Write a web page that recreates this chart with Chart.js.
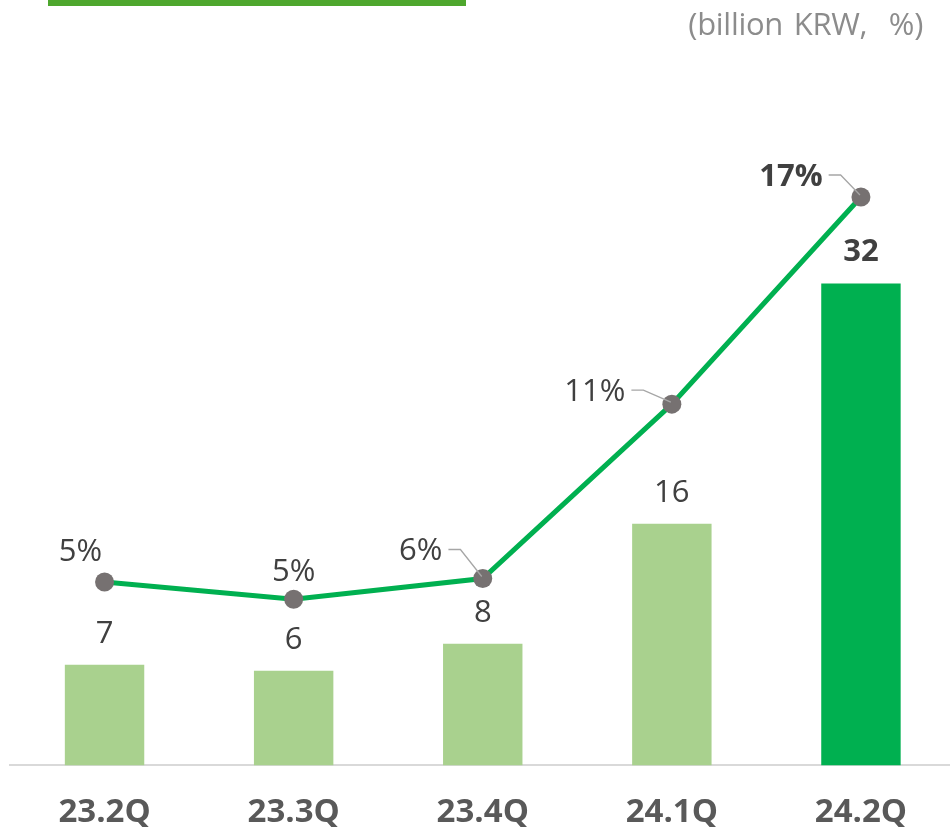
<!DOCTYPE html>
<html>
<head>
<meta charset="utf-8">
<script src="https://cdn.jsdelivr.net/npm/chart.js@4/dist/chart.umd.min.js"></script>
<style>
  html, body { margin: 0; padding: 0; background: #fff; overflow: hidden; width: 950px; height: 832px; }
  #chart { position: absolute; left: 0; top: 0; }
  #topbar { position: absolute; left: 48px; top: 0px; width: 418px; height: 6px; background: #4ea72e; }
  #unit { position: absolute; right: 27px; top: 2px; font-family: "Open Sans", "Noto Sans", sans-serif; font-size: 31px; color: #8c8c8c; letter-spacing: -0.3px; word-spacing: 3px; }
</style>
</head>
<body>
<canvas id="chart" width="965" height="860"></canvas>
<div id="topbar"></div>
<div id="unit">(billion KRW,&nbsp;&nbsp;%)</div>
<script>
// data
const quarters = ['23.2Q', '23.3Q', '23.4Q', '24.1Q', '24.2Q'];
const profit = [6.7, 6.3, 8.1, 16.1, 32.1];          // billion KRW
const margin = [5.45, 4.95, 5.55, 10.6, 16.6];       // %
const profitLabels = ['7', '6', '8', '16', '32'];
const marginLabels = ['5%', '5%', '6%', '11%', '17%'];

const barColors = ['#a9d18e', '#a9d18e', '#a9d18e', '#a9d18e', '#00b050'];
const boldIdx = 4;
// label placement relative to the point: [dx, dy, leader line?]
const marginLabelPos = [[-24, -30, false], [0, -27, false], [-62, -27, true], [-77, -12, true], [-70, -20, true]];

const labelPlugin = {
  id: 'labels',
  afterDatasetsDraw(chart) {
    const ctx = chart.ctx;
    const bars = chart.getDatasetMeta(0).data;
    const pts = chart.getDatasetMeta(1).data;
    ctx.save();
    ctx.fillStyle = '#404040';
    ctx.textAlign = 'center';
    ctx.textBaseline = 'middle';
    bars.forEach((b, i) => {
      ctx.font = (i === boldIdx ? 'bold ' : '') + '31px "Open Sans", "Noto Sans", sans-serif';
      ctx.fillText(profitLabels[i], b.x, b.y - 31);
    });
    pts.forEach((p, i) => {
      const [dx, dy, lead] = marginLabelPos[i];
      ctx.font = (i === boldIdx ? 'bold ' : '') + '31px "Open Sans", "Noto Sans", sans-serif';
      const tx = p.x + dx, ty = p.y + dy;
      ctx.fillStyle = '#404040';
      ctx.fillText(marginLabels[i], tx, ty);
      if (lead) {
        const w = ctx.measureText(marginLabels[i]).width;
        const x0 = tx + w / 2 + 6;
        const yl = ty - 2;
        ctx.beginPath();
        ctx.moveTo(x0, yl);
        ctx.lineTo(x0 + 12, yl);
        ctx.lineTo(p.x - 1, p.y - 2);
        ctx.strokeStyle = '#a6a6a6';
        ctx.lineWidth = 1.3;
        ctx.stroke();
      }
    });
    ctx.restore();
  }
};

new Chart(document.getElementById('chart'), {
  data: {
    labels: quarters,
    datasets: [
      {
        type: 'bar',
        data: profit,
        backgroundColor: barColors,
        yAxisID: 'y',
        categoryPercentage: 1,
        barPercentage: 0.42,
        order: 2
      },
      {
        type: 'line',
        data: margin,
        yAxisID: 'y2',
        borderColor: '#00b050',
        borderWidth: 5,
        pointRadius: 9.5,
        pointBackgroundColor: '#767171',
        pointBorderWidth: 0,
        tension: 0,
        order: 1
      }
    ]
  },
  options: {
    responsive: false,
    animation: false,
    layout: { padding: { left: 10, right: 0, top: 120, bottom: 0 } },
    plugins: { legend: { display: false }, tooltip: { enabled: false } },
    scales: {
      x: {
        grid: { display: false, drawTicks: false },
        border: { display: true, color: '#d9d9d9', width: 2 },
        ticks: {
          color: '#595959',
          padding: 27.5,
          font: { family: '"Open Sans", "Noto Sans", sans-serif', size: 33, weight: 'bold' }
        }
      },
      y: { display: false, min: 0, max: 43 },
      y2: { display: false, min: 0.136, max: 18.83 }
    }
  },
  plugins: [labelPlugin]
});
</script>
</body>
</html>
